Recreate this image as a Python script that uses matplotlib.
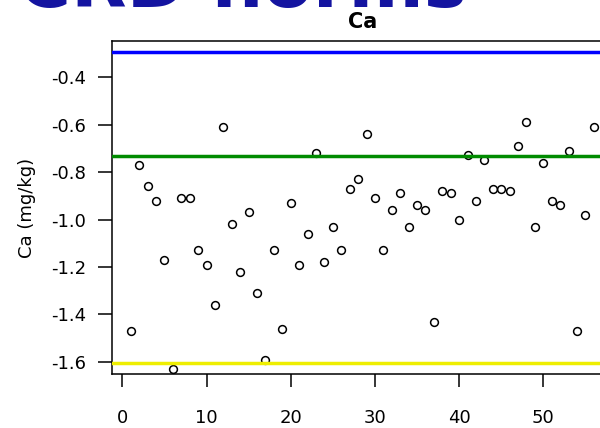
import matplotlib
matplotlib.use('Agg')
import matplotlib.pyplot as plt
import numpy as np

plt.rcParams['axes.unicode_minus'] = False
plt.rcParams['font.family'] = ['DejaVu Sans']

# Ca values per sample (index 1..56)
ca = [-1.47, -0.77, -0.86, -0.92, -1.17, -1.63, -0.91, -0.91, -1.13, -1.19,
      -1.36, -0.61, -1.02, -1.22, -0.97, -1.31, -1.59, -1.13, -1.46, -0.93,
      -1.19, -1.06, -0.72, -1.18, -1.03, -1.13, -0.87, -0.83, -0.64, -0.91,
      -1.13, -0.96, -0.89, -1.03, -0.94, -0.96, -1.43, -0.88, -0.89, -1.00,
      -0.73, -0.92, -0.75, -0.87, -0.87, -0.88, -0.69, -0.59, -1.03, -0.76,
      -0.92, -0.94, -0.71, -1.47, -0.98, -0.61]
idx = np.arange(1, len(ca) + 1)

# reference lines (upper / mean / lower)
ref_vals = [-0.295, -0.733, -1.606]
ref_cols = ['#0000FF', '#008B00', '#EEEE00']

xticks = [0, 10, 20, 30, 40, 50]
yticks = [-1.6, -1.4, -1.2, -1.0, -0.8, -0.6, -0.4]

fig = plt.figure(figsize=(6, 4.28), dpi=100)
fig.patch.set_facecolor('white')
ax = fig.add_axes([112.3 / 600, 1 - 374.3 / 428, 500 / 600, 333.3 / 428])

ax.plot(idx, ca, 'o', mfc='none', mec='black', ms=5.6, mew=1.1, zorder=2)
for v, c in zip(ref_vals, ref_cols):
    ax.axhline(v, color=c, lw=2.5, zorder=3)

ax.set_xlim(-1.2, 58.2)
ax.set_ylim(-1.652, -0.248)
ax.set_xticks(xticks)
ax.set_yticks(yticks)
ax.set_yticklabels(['%.1f' % t for t in yticks])
ax.tick_params(axis='y', length=10, width=1.1, pad=9, labelsize=13)
ax.tick_params(axis='x', length=9, width=1.1, pad=16, labelsize=13)
for s in ax.spines.values():
    s.set_linewidth(1.1)
    s.set_color('black')

ax.set_ylabel('Ca (mg/kg)', fontsize=13)
ax.yaxis.set_label_coords(-0.152, 0.5)
ax.set_title('Ca', fontsize=15, fontweight='bold', pad=9)

# big banner text, cut off at the top of the picture
fig.text(18 / 600, 1 - 7 / 428, 'CRD norms', fontsize=52, fontweight='bold',
         color='#1414A0', ha='left', va='baseline')

fig.savefig('out.png', dpi=100, facecolor='white')
